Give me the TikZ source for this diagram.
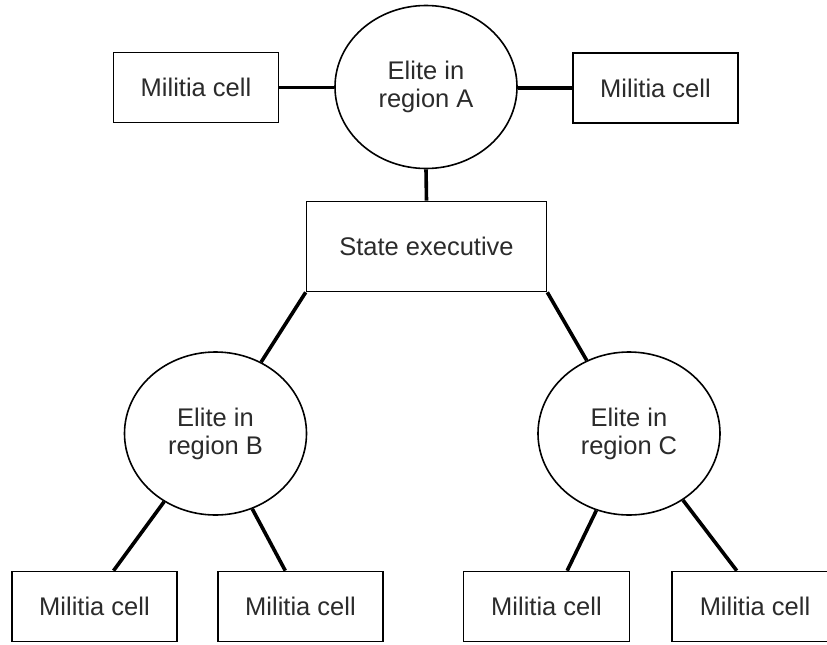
\documentclass[tikz,border=0pt]{standalone}
\usepackage{fontspec}
\setmainfont{Liberation Sans}
\usetikzlibrary{shapes.geometric}
\definecolor{textgray}{HTML}{2B2B2B}
\tikzset{
    militia/.style={draw,line width=1.6pt,rectangle,inner sep=0pt,minimum width=165pt,minimum height=70pt,text=textgray,font=\fontsize{25.5}{28}\selectfont},
    elite/.style={draw,line width=1.6pt,ellipse,inner sep=0pt,minimum width=182pt,minimum height=163pt,align=center,text=textgray,font=\fontsize{25.5}{28}\selectfont},
    link/.style={line width=3.6pt}
}

\begin{document}
\begin{tikzpicture}[x=1pt,y=-1pt]
    \clip (0,0) rectangle (827,645);
    \fill[white] (0,0) rectangle (827,645);
    \node[elite] (eliteA) at (426,87) {Elite in\\region A};
    \node[militia] (cellAL) at (196,87.5) {Militia cell};
    \node[militia] (cellAR) at (655.5,88) {Militia cell};
    \node[militia,minimum width=240pt,minimum height=90pt] (exec) at (426.5,246.5) {State executive};
    \node[elite] (eliteB) at (215.5,433.5) {Elite in\\region B};
    \node[elite] (eliteC) at (629,433.5) {Elite in\\region C};
    \node[militia] (cellB1) at (94.5,606.5) {Militia cell};
    \node[militia] (cellB2) at (300.5,606.5) {Militia cell};
    \node[militia,minimum width=166pt] (cellC1) at (546.5,606.5) {Militia cell};
    \node[militia,minimum width=166pt] (cellC2) at (755,606.5) {Militia cell};
    \draw[link] (cellAL.east) -- (eliteA.west |- cellAL.east);
    \draw[link] (cellAR.west) -- (eliteA.east |- cellAR.west);
    \draw[link] (eliteA.south) -- (exec.north);
    \draw[link] (exec.south west) -- (eliteB);
    \draw[link] (exec.south east) -- (eliteC);
    \draw[link] (eliteB.233) -- (cellB1.62.5);
    \draw[link] (eliteB.296) -- (cellB2.113.6);
    \draw[link] (eliteC.247) -- (cellC1.60);
    \draw[link] (eliteC.309) -- (cellC2.117);
\end{tikzpicture}
\end{document}
